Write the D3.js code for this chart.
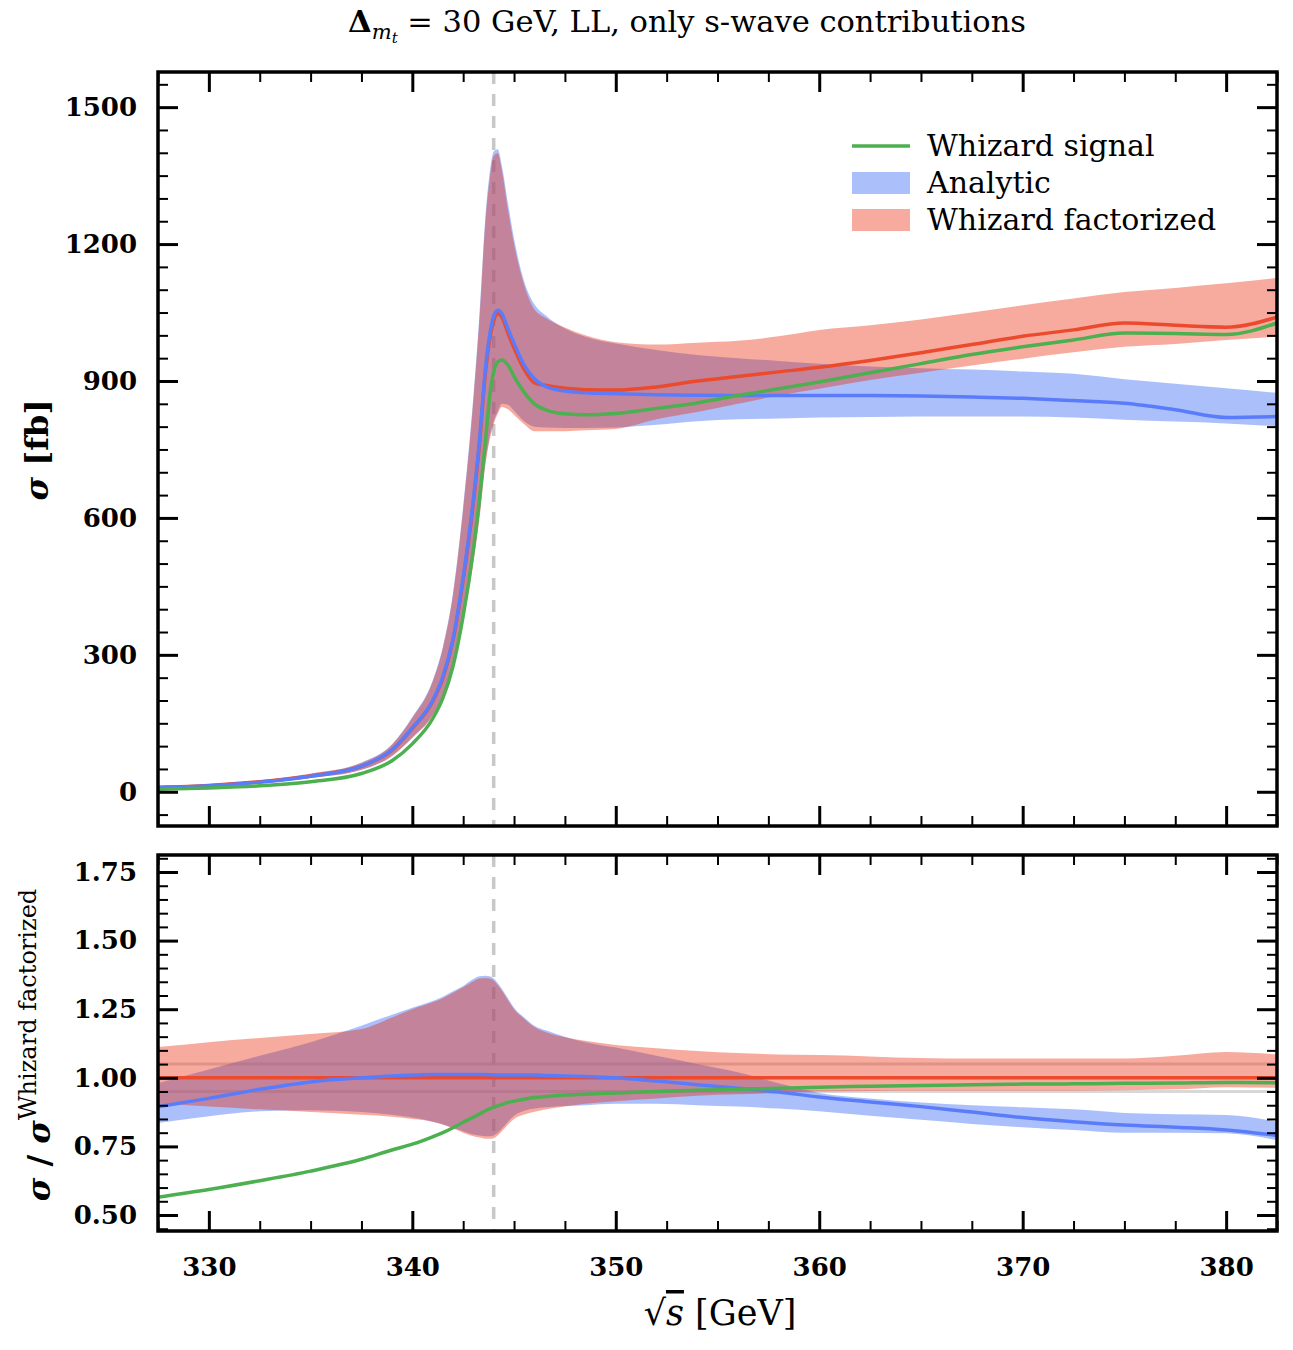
<!DOCTYPE html>
<html>
<head>
<meta charset="utf-8">
<script src="https://cdn.jsdelivr.net/npm/d3@7/dist/d3.min.js"></script>
<style>
	body { margin: 0; background: #fff; }
	text { font-family: 'DejaVu Serif', 'Liberation Serif', serif; fill: #000; }
</style>
</head>
<body>
<script>

// centre of mass energy [GeV]
var energy = [327.5, 330, 332.5, 335, 337.5, 339, 340, 341, 341.5, 342,
	342.5, 343, 343.3, 343.6, 343.8, 344, 344.2, 344.4, 344.7, 345,
	345.5, 346, 346.6, 347.5, 348.5, 350, 352, 354, 356, 358,
	360, 362.5, 365, 367.5, 370, 372.5, 375, 377.5, 380, 382.5];

// top panel, cross section [fb]
var sigmaSignal = [5.5, 8.4, 13, 22, 40, 68, 105, 160, 205, 275,
	385, 530, 640, 770, 865, 920, 942, 946, 935, 910,
	875, 850, 836, 828, 826, 829, 840, 852, 868, 883,
	898, 918, 938, 958, 975, 990, 1005, 1004, 1002, 1027];

var sigmaAnalytic = [9, 13, 21, 34, 56, 92, 140, 200, 252, 335,
	470, 640, 770, 930, 1000, 1042, 1055, 1048, 1015, 983,
	935, 905, 887, 878, 874, 872, 870, 869, 868, 868,
	868, 868, 867, 865, 862, 857, 851, 837, 820, 822];
var sigmaAnalyticHi = [9.5, 14, 24, 39, 64, 104, 164, 244, 318, 436,
	626, 866, 1046, 1265, 1355, 1403, 1408, 1372, 1290, 1212,
	1118, 1068, 1042, 1015, 997, 982, 968, 957, 950, 944,
	938, 932, 928, 925, 921, 916, 904, 894, 884, 874];
var sigmaAnalyticLo = [8, 12, 19, 30, 48, 79, 119, 168, 210, 275,
	378, 508, 606, 725, 778, 812, 833, 850, 848, 835,
	812, 800, 798, 797, 797, 798, 804, 812, 816, 818,
	820, 821, 822, 822, 822, 820, 815, 811, 807, 801];

var sigmaFactorized = [10, 14, 22, 34.5, 56, 91, 139, 198, 249, 332,
	465, 634, 762, 921, 990, 1032, 1048, 1040, 1005, 972,
	925, 896, 890, 884, 881, 880, 887, 900, 910, 920,
	930, 945, 962, 980, 998, 1012, 1027, 1022, 1018, 1040];
var sigmaFactorizedHi = [11, 16, 25, 40, 63, 103, 162, 241, 314, 431,
	619, 857, 1036, 1253, 1341, 1393, 1399, 1362, 1276, 1200,
	1110, 1057, 1037, 1017, 1000, 985, 980, 984, 988, 998,
	1012, 1022, 1035, 1050, 1066, 1081, 1095, 1104, 1114, 1126];
var sigmaFactorizedLo = [9.1, 12.5, 19.5, 30, 48, 78, 118, 166, 207, 271,
	372, 501, 598, 718, 770, 805, 828, 843, 838, 826,
	805, 790, 790, 790, 792, 795, 816, 832, 850, 868,
	883, 902, 918, 934, 949, 963, 975, 981, 990, 997];

// bottom panel, ratio to Whizard factorized
var ratioSignal = [0.565, 0.593, 0.625, 0.66, 0.703, 0.737, 0.758, 0.785, 0.8, 0.818,
	0.838, 0.856, 0.868, 0.88, 0.887, 0.893, 0.898, 0.903, 0.91, 0.915,
	0.922, 0.928, 0.932, 0.937, 0.94, 0.945, 0.95, 0.955, 0.958, 0.962,
	0.966, 0.969, 0.972, 0.975, 0.977, 0.978, 0.98, 0.981, 0.983, 0.982];

var ratioAnalytic = [0.895, 0.925, 0.958, 0.985, 1.0, 1.007, 1.01, 1.012, 1.012, 1.012,
	1.012, 1.012, 1.012, 1.012, 1.011, 1.011, 1.01, 1.01, 1.01, 1.01,
	1.01, 1.01, 1.008, 1.007, 1.005, 1.0, 0.988, 0.975, 0.962, 0.948,
	0.93, 0.912, 0.895, 0.875, 0.855, 0.84, 0.828, 0.82, 0.81, 0.79];
var ratioAnalyticHi = [0.98, 1.03, 1.08, 1.13, 1.19, 1.23, 1.255, 1.28, 1.295, 1.315,
	1.335, 1.36, 1.37, 1.372, 1.37, 1.362, 1.345, 1.325, 1.29, 1.255,
	1.22, 1.19, 1.172, 1.15, 1.13, 1.11, 1.08, 1.05, 1.02, 0.98,
	0.945, 0.925, 0.91, 0.9, 0.893, 0.885, 0.872, 0.867, 0.864, 0.84];
var ratioAnalyticLo = [0.835, 0.86, 0.878, 0.882, 0.875, 0.865, 0.855, 0.84, 0.83, 0.818,
	0.805, 0.793, 0.79, 0.787, 0.787, 0.79, 0.8, 0.815, 0.84, 0.862,
	0.88, 0.888, 0.893, 0.897, 0.9, 0.905, 0.905, 0.9, 0.895, 0.888,
	0.878, 0.862, 0.847, 0.832, 0.82, 0.81, 0.8, 0.8, 0.798, 0.773];

var ratioFactorized = 1.0;
var ratioFactorizedHi = [1.112, 1.13, 1.145, 1.16, 1.178, 1.22, 1.25, 1.275, 1.29, 1.31,
	1.33, 1.352, 1.362, 1.364, 1.362, 1.355, 1.338, 1.318, 1.283, 1.25,
	1.215, 1.185, 1.165, 1.148, 1.135, 1.12, 1.108, 1.098, 1.09, 1.085,
	1.083, 1.078, 1.072, 1.07, 1.07, 1.07, 1.07, 1.08, 1.094, 1.085];
var ratioFactorizedLo = [0.905, 0.895, 0.885, 0.875, 0.865, 0.858, 0.85, 0.84, 0.83, 0.815,
	0.8, 0.787, 0.782, 0.778, 0.778, 0.78, 0.79, 0.805, 0.83, 0.85,
	0.866, 0.876, 0.885, 0.895, 0.905, 0.915, 0.925, 0.935, 0.94, 0.945,
	0.95, 0.952, 0.953, 0.953, 0.953, 0.953, 0.955, 0.958, 0.966, 0.963];

// reference lines
var thresholdEnergy = 344;
var ratioGuides = [0.95, 1.05];

// ticks
var xTicks = [330, 340, 350, 360, 370, 380];
var xMinor = d3.range(327.5, 383, 2.5);
var sigmaTicks = [0, 300, 600, 900, 1200, 1500];
var sigmaMinor = d3.range(-50, 1576, 50);
var ratioTicks = [0.5, 0.75, 1.0, 1.25, 1.5, 1.75];
var ratioMinor = d3.range(0.45, 1.81, 0.05);

var legendLabels = ['Whizard signal', 'Analytic', 'Whizard factorized'];

var colorSignal = '#4caf50',
	colorAnalytic = '#5b7cfa',
	colorFactorized = '#ec4a2c',
	bandAnalytic = 'rgba(87,128,247,0.5)',
	bandFactorized = 'rgba(232,45,12,0.4)';

var W = 1293, H = 1350;
var left = 158, right = 1277;
var top1 = 72, bot1 = 826, top2 = 855, bot2 = 1231;

var svg = d3.select('body').append('svg')
	.attr('width', W)
	.attr('height', H);

var x = d3.scaleLinear()
	.domain([327.5, 382.5])
	.range([left, right]);

var y1 = d3.scaleLinear()
	.domain([-75, 1577])
	.range([bot1, top1]);

var y2 = d3.scaleLinear()
	.domain([0.4417, 1.812])
	.range([bot2, top2]);

var pts = energy.map(function(e, i) { return i; });

// clip paths for the two panels
var defs = svg.append('defs');
defs.append('clipPath').attr('id', 'clip1').append('rect')
	.attr('x', left).attr('y', top1).attr('width', right - left).attr('height', bot1 - top1);
defs.append('clipPath').attr('id', 'clip2').append('rect')
	.attr('x', left).attr('y', top2).attr('width', right - left).attr('height', bot2 - top2);

function band(y, lo, hi) {
	return d3.area()
		.curve(d3.curveMonotoneX)
		.x(function(i) { return x(energy[i]); })
		.y0(function(i) { return y(lo[i]); })
		.y1(function(i) { return y(hi[i]); })(pts);
}

function line(y, vals) {
	return d3.line()
		.curve(d3.curveMonotoneX)
		.x(function(i) { return x(energy[i]); })
		.y(function(i) { return y(vals[i]); })(pts);
}

// ---------- top panel ----------
var g1 = svg.append('g').attr('clip-path', 'url(#clip1)');

g1.append('line')
	.attr('x1', x(thresholdEnergy)).attr('x2', x(thresholdEnergy))
	.attr('y1', top1).attr('y2', bot1)
	.attr('stroke', '#c8c8c8')
	.attr('stroke-width', 3.5)
	.attr('stroke-dasharray', '12,10');

g1.append('path').attr('d', band(y1, sigmaAnalyticLo, sigmaAnalyticHi)).attr('fill', bandAnalytic);
g1.append('path').attr('d', band(y1, sigmaFactorizedLo, sigmaFactorizedHi)).attr('fill', bandFactorized);

[[sigmaFactorized, colorFactorized], [sigmaAnalytic, colorAnalytic], [sigmaSignal, colorSignal]]
	.forEach(function(s) {
		g1.append('path')
			.attr('d', line(y1, s[0]))
			.attr('fill', 'none')
			.attr('stroke', s[1])
			.attr('stroke-width', 3.5)
			.attr('stroke-linejoin', 'round');
	});

// ---------- bottom panel ----------
var g2 = svg.append('g').attr('clip-path', 'url(#clip2)');

ratioGuides.forEach(function(r) {
	g2.append('line')
		.attr('x1', left).attr('x2', right)
		.attr('y1', y2(r)).attr('y2', y2(r))
		.attr('stroke', '#d8d8d8')
		.attr('stroke-width', 3);
});

g2.append('line')
	.attr('x1', x(thresholdEnergy)).attr('x2', x(thresholdEnergy))
	.attr('y1', top2).attr('y2', bot2)
	.attr('stroke', '#c8c8c8')
	.attr('stroke-width', 3.5)
	.attr('stroke-dasharray', '12,10');

g2.append('path').attr('d', band(y2, ratioAnalyticLo, ratioAnalyticHi)).attr('fill', bandAnalytic);
g2.append('path').attr('d', band(y2, ratioFactorizedLo, ratioFactorizedHi)).attr('fill', bandFactorized);

g2.append('line')
	.attr('x1', left).attr('x2', right)
	.attr('y1', y2(ratioFactorized)).attr('y2', y2(ratioFactorized))
	.attr('stroke', colorFactorized)
	.attr('stroke-width', 3.5);

[[ratioAnalytic, colorAnalytic], [ratioSignal, colorSignal]]
	.forEach(function(s) {
		g2.append('path')
			.attr('d', line(y2, s[0]))
			.attr('fill', 'none')
			.attr('stroke', s[1])
			.attr('stroke-width', 3.5)
			.attr('stroke-linejoin', 'round');
	});

// ---------- axes / ticks on all four sides ----------
function ticks(axis, pos, major, minor, labels, padding) {
	var gMaj = svg.append('g')
		.attr('transform', pos)
		.call(axis.tickValues(major).tickSize(-20).tickSizeOuter(0).tickPadding(padding)
			.tickFormat(labels ? labels : ''));
	gMaj.select('.domain').remove();
	gMaj.selectAll('line').attr('stroke-width', 3);
	gMaj.selectAll('text')
		.style('font-family', "'DejaVu Serif', serif")
		.style('font-weight', 'bold')
		.style('font-size', '26px');

	var gMin = svg.append('g')
		.attr('transform', pos)
		.call(axis.tickValues(minor.filter(function(v) {
			return major.every(function(m) { return Math.abs(m - v) > 1e-6; });
		})).tickSize(-10).tickSizeOuter(0).tickFormat(''));
	gMin.select('.domain').remove();
	gMin.selectAll('line').attr('stroke-width', 2);
}

var fmtRatio = d3.format('.2f');

// top panel
ticks(d3.axisBottom(x), 'translate(0,' + bot1 + ')', xTicks, xMinor, null, 0);
ticks(d3.axisTop(x), 'translate(0,' + top1 + ')', xTicks, xMinor, null, 0);
ticks(d3.axisLeft(y1), 'translate(' + left + ',0)', sigmaTicks, sigmaMinor, d3.format('d'), 21);
ticks(d3.axisRight(y1), 'translate(' + right + ',0)', sigmaTicks, sigmaMinor, null, 0);

// bottom panel
ticks(d3.axisBottom(x), 'translate(0,' + bot2 + ')', xTicks, xMinor, d3.format('d'), 27);
ticks(d3.axisTop(x), 'translate(0,' + top2 + ')', xTicks, xMinor, null, 0);
ticks(d3.axisLeft(y2), 'translate(' + left + ',0)', ratioTicks, ratioMinor, fmtRatio, 21);
ticks(d3.axisRight(y2), 'translate(' + right + ',0)', ratioTicks, ratioMinor, null, 0);

// frames
[[top1, bot1], [top2, bot2]].forEach(function(p) {
	svg.append('rect')
		.attr('x', left).attr('y', p[0])
		.attr('width', right - left).attr('height', p[1] - p[0])
		.attr('fill', 'none')
		.attr('stroke', '#000')
		.attr('stroke-width', 3.5);
});

// ---------- title ----------
var title = svg.append('text')
	.attr('x', 687)
	.attr('y', 32)
	.attr('text-anchor', 'middle')
	.style('font-size', '30.5px');
title.append('tspan').style('font-weight', 'bold').text('\u0394');
title.append('tspan').attr('dy', 7).style('font-size', '21px').style('font-style', 'italic').text('m');
title.append('tspan').attr('dy', 4).style('font-size', '15px').style('font-style', 'italic').text('t');
title.append('tspan').attr('dy', -11).text(' = 30 GeV, LL, only s-wave contributions');

// ---------- axis labels ----------
var yl1 = svg.append('text')
	.attr('transform', 'translate(48,450) rotate(-90)')
	.attr('text-anchor', 'middle')
	.style('font-size', '32px')
	.style('font-weight', 'bold');
yl1.append('tspan').style('font-style', 'italic').text('\u03c3');
yl1.append('tspan').text(' [fb]');

var yl2 = svg.append('text')
	.attr('transform', 'translate(50,1045) rotate(-90)')
	.attr('text-anchor', 'middle')
	.style('font-size', '32px')
	.style('font-weight', 'bold');
yl2.append('tspan').style('font-style', 'italic').text('\u03c3');
yl2.append('tspan').text(' / ');
yl2.append('tspan').style('font-style', 'italic').text('\u03c3');
yl2.append('tspan').attr('dy', -14).style('font-size', '24px').style('font-weight', 'normal')
	.text('Whizard factorized');

var xl = svg.append('text')
	.attr('x', 720)
	.attr('y', 1325)
	.attr('text-anchor', 'middle')
	.style('font-size', '35px');
xl.append('tspan').text('\u221a');
xl.append('tspan').style('font-style', 'italic').style('text-decoration', 'overline').text('s');
xl.append('tspan').text(' [GeV]');

// ---------- legend ----------
var legend = svg.append('g');
legend.append('line')
	.attr('x1', 852).attr('x2', 910)
	.attr('y1', 146).attr('y2', 146)
	.attr('stroke', colorSignal)
	.attr('stroke-width', 3.5);
legend.append('rect')
	.attr('x', 852).attr('y', 172).attr('width', 58).attr('height', 22)
	.attr('fill', bandAnalytic);
legend.append('rect')
	.attr('x', 852).attr('y', 209).attr('width', 58).attr('height', 22)
	.attr('fill', bandFactorized);

legend.selectAll('text.leg')
	.data(legendLabels)
	.enter().append('text')
	.attr('class', 'leg')
	.attr('x', 927)
	.attr('y', function(d, i) { return 156 + i * 37; })
	.style('font-size', '30px')
	.text(function(d) { return d; });

</script>
</body>
</html>
